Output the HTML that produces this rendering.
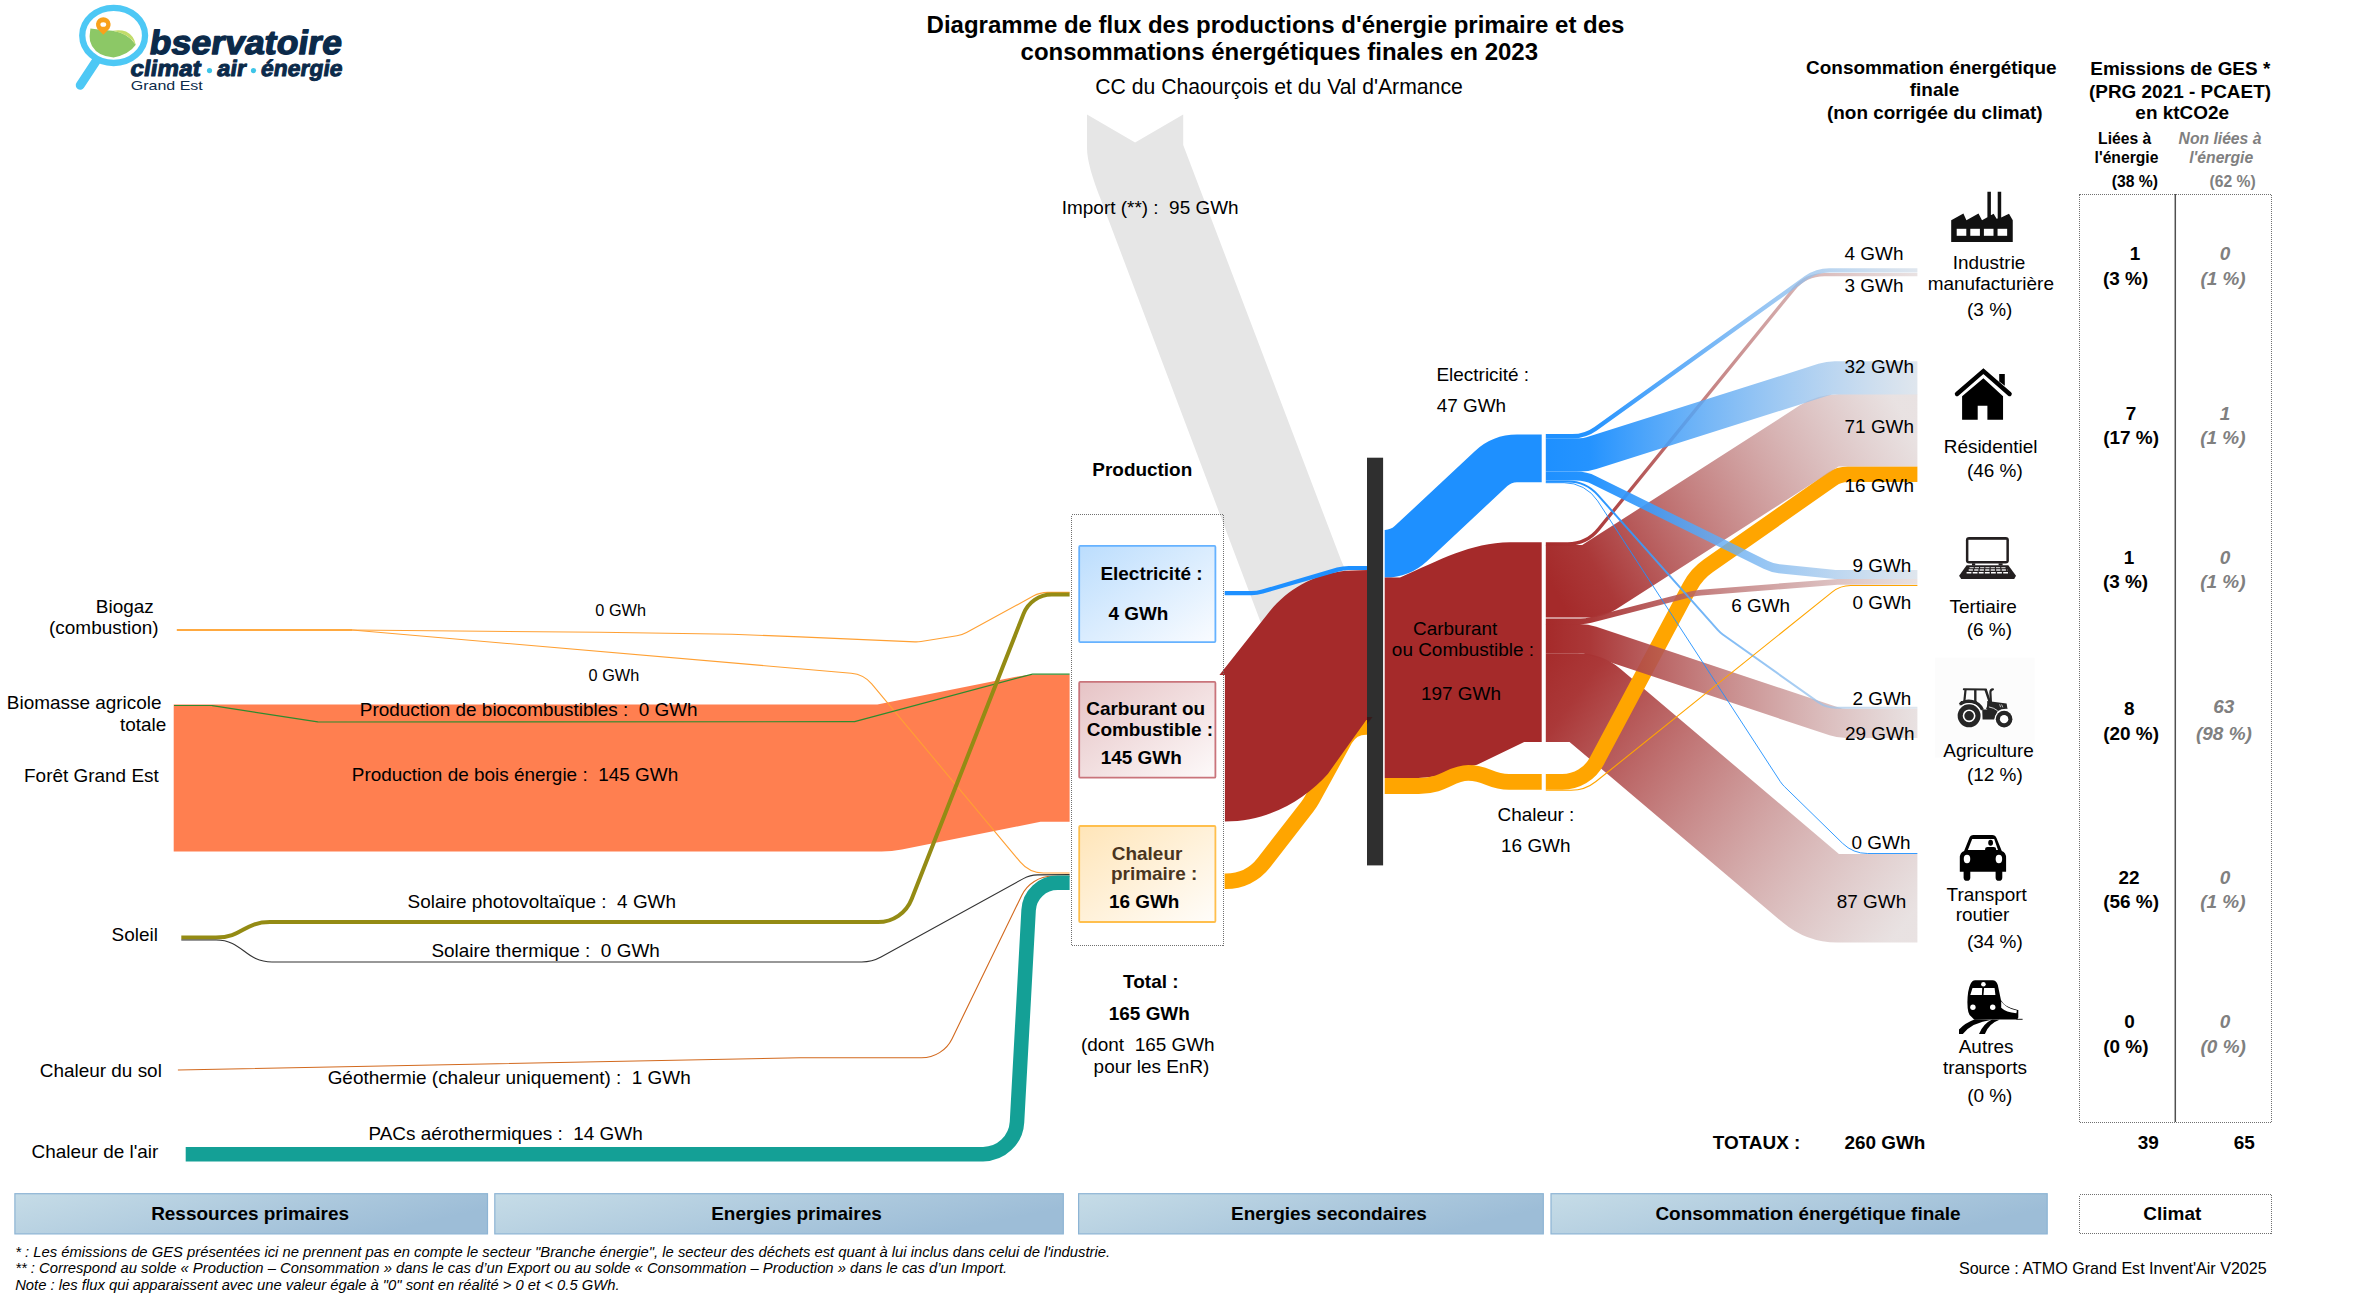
<!DOCTYPE html>
<html lang="fr"><head><meta charset="utf-8"><title>Diagramme de flux</title>
<style>
html,body{margin:0;padding:0;background:#fff;}
body{width:2370px;height:1299px;overflow:hidden;font-family:"Liberation Sans",sans-serif;}
svg{display:block;font-family:"Liberation Sans",sans-serif;}
svg text{white-space:pre;}
</style></head><body>
<svg width="2370" height="1299" viewBox="0 0 2370 1299">
<defs>
<linearGradient id="gB" gradientUnits="userSpaceOnUse" x1="1545.8" y1="0" x2="1917.4" y2="0"><stop offset="0" stop-color="#1E90FF" stop-opacity="1"/><stop offset="0.12" stop-color="#1E90FF" stop-opacity="0.97"/><stop offset="1" stop-color="#CCD7E3" stop-opacity="0.62"/></linearGradient>
<linearGradient id="gR" gradientUnits="userSpaceOnUse" x1="1545.8" y1="0" x2="1917.4" y2="0"><stop offset="0" stop-color="#A52A2A" stop-opacity="1"/><stop offset="0.12" stop-color="#A83232" stop-opacity="0.97"/><stop offset="1" stop-color="#DBD0D0" stop-opacity="0.62"/></linearGradient>
<linearGradient id="gR87" gradientUnits="userSpaceOnUse" x1="1535" y1="660" x2="1900" y2="930"><stop offset="0" stop-color="#A52A2A" stop-opacity="1"/><stop offset="0.12" stop-color="#A83232" stop-opacity="0.97"/><stop offset="1" stop-color="#DBD0D0" stop-opacity="0.62"/></linearGradient>
<linearGradient id="gR71" gradientUnits="userSpaceOnUse" x1="1560" y1="600" x2="1900" y2="410"><stop offset="0" stop-color="#A52A2A" stop-opacity="1"/><stop offset="0.12" stop-color="#A83232" stop-opacity="0.97"/><stop offset="1" stop-color="#DBD0D0" stop-opacity="0.62"/></linearGradient>
<linearGradient id="gBar" gradientUnits="objectBoundingBox" x1="0" y1="0" x2="1" y2="0.35"><stop offset="0" stop-color="#C6DCE7" stop-opacity="1"/><stop offset="1" stop-color="#9DBDD7" stop-opacity="1"/></linearGradient>
<linearGradient id="gElec" gradientUnits="objectBoundingBox" x1="0" y1="0" x2="1" y2="1"><stop offset="0" stop-color="#BBDDFD" stop-opacity="1"/><stop offset="1" stop-color="#FAFCFF" stop-opacity="1"/></linearGradient>
<linearGradient id="gCarb" gradientUnits="objectBoundingBox" x1="0" y1="0" x2="1" y2="1"><stop offset="0" stop-color="#E6C3C5" stop-opacity="1"/><stop offset="1" stop-color="#FDFAFA" stop-opacity="1"/></linearGradient>
<linearGradient id="gChal" gradientUnits="objectBoundingBox" x1="0" y1="0" x2="1" y2="1"><stop offset="0" stop-color="#FFE5B8" stop-opacity="1"/><stop offset="1" stop-color="#FFFDFA" stop-opacity="1"/></linearGradient>
</defs>
<rect x="0" y="0" width="2370" height="1299" fill="#fff"/>
<path d="M1087,114.6 L1135.1,142.4 L1183.2,114.6 L1183.2,145 L1341,560 L1367,620 L1367,700 L1290,700 L1250,594 L1101,200 Q1087,165 1087,148 Z" fill="#E6E6E6"/>
<path d="M173.70,851.50 L881.64,851.50 A103.50,103.50 0 0 0 901.88,849.50 L1040.56,821.85 L1069.60,821.85 L1069.60,674.85 L1036.26,674.85 A103.50,103.50 0 0 0 1016.02,676.85 L877.34,704.50 L173.70,704.50 Z" fill="#FF7F50" fill-opacity="1"/>
<path d="M176.80,630.00 L352.00,630.00" fill="none" stroke="#FF8C00" stroke-width="1.6" stroke-linejoin="round" stroke-opacity="1" />
<path d="M352.00,630.00 L600.00,632.30 L732.00,634.20 L800.00,636.90 L914.98,641.87 A30.00,30.00 0 0 0 920.99,641.52 L956.88,635.81 A30.00,30.00 0 0 0 966.55,632.52 L1033.28,596.07 A30.00,30.00 0 0 1 1047.66,592.40 L1069.60,592.40" fill="none" stroke="#FFA033" stroke-width="1.1" stroke-linejoin="round" stroke-opacity="1" />
<path d="M352.00,630.00 L851.25,673.22 A30.00,30.00 0 0 1 871.70,683.90 L1020.40,862.21 A30.00,30.00 0 0 0 1043.44,873.00 L1069.60,873.00" fill="none" stroke="#FFA033" stroke-width="1.1" stroke-linejoin="round" stroke-opacity="1" />
<path d="M174.00,705.50 L211.69,705.50 A4.00,4.00 0 0 1 212.31,705.55 L317.69,721.95 A4.00,4.00 0 0 0 318.31,722.00 L853.58,721.70 A4.00,4.00 0 0 0 854.61,721.56 L1031.49,674.34 A4.00,4.00 0 0 1 1032.52,674.20 L1069.60,674.20" fill="none" stroke="#2E8B2E" stroke-width="1.2" stroke-linejoin="round" stroke-opacity="1" />
<path d="M181.3,937.6 L216,937.6 C243,937.6 243,922.1 270,922.1 L291,922.1" fill="none" stroke="#948B14" stroke-width="4"/>
<path d="M290.00,922.10 L878.05,922.10 A36.00,36.00 0 0 0 911.57,899.25 L1023.63,613.64 A30.00,30.00 0 0 1 1051.56,594.60 L1069.60,594.60" fill="none" stroke="#948B14" stroke-width="4" stroke-linejoin="round" stroke-opacity="1" />
<path d="M181.3,940 L216,940 C243,940 245,962 272,962 L290,962" fill="none" stroke="#333" stroke-width="1.1"/>
<path d="M290.00,962.00 L861.72,962.00 A40.00,40.00 0 0 0 881.01,957.04 L1023.38,878.64 A30.00,30.00 0 0 1 1037.55,874.92 L1069.60,874.60" fill="none" stroke="#333" stroke-width="1.1" stroke-linejoin="round" stroke-opacity="1" />
<path d="M177.90,1070.00 L800.00,1057.80 L921.52,1057.80 A34.00,34.00 0 0 0 952.10,1038.66 L1021.70,895.44 A34.00,34.00 0 0 1 1052.28,876.30 L1069.60,876.30" fill="none" stroke="#D2691E" stroke-width="1.1" stroke-linejoin="round" stroke-opacity="1" />
<path d="M185.70,1154.15 L983.06,1154.15 A34.00,34.00 0 0 0 1017.01,1122.01 L1028.60,910.22 A29.00,29.00 0 0 1 1057.56,882.80 L1069.60,882.80" fill="none" stroke="#14A096" stroke-width="14.5" stroke-linejoin="round" stroke-opacity="1" />
<path d="M1224.60,881.30 L1225.88,881.30 A48.00,48.00 0 0 0 1263.81,862.72 L1307.29,806.66 A60.00,60.00 0 0 0 1312.48,798.73 L1345.07,739.31 A24.00,24.00 0 0 1 1366.11,726.85 L1368.00,726.85" fill="none" stroke="#FFA500" stroke-width="15.6" stroke-linejoin="round" stroke-opacity="1" />
<path d="M1224.9,674.9 L1219.4,674.9 L1268,613.5 C1286,591 1310,575 1345,570.8 L1368,570 L1368,720 L1366.3,720 L1327.8,773.9 C1305,799 1270,821.5 1224.9,821.5 Z" fill="#A52A2A"/>
<path d="M1224.70,593.20 L1251.26,593.20 A40.00,40.00 0 0 0 1262.51,591.59 L1337.49,569.61 A40.00,40.00 0 0 1 1348.74,568.00 L1368.00,568.00" fill="none" stroke="#1E90FF" stroke-width="4.2" stroke-linejoin="round" stroke-opacity="1" />
<path d="M1384.70,577.55 L1385.00,577.55 A61.80,61.80 0 0 0 1427.21,560.90 L1507.30,486.03 A14.20,14.20 0 0 1 1517.00,482.20 L1541.70,482.20 L1541.70,434.60 L1517.00,434.60 A61.80,61.80 0 0 0 1474.79,451.25 L1394.70,526.12 A14.20,14.20 0 0 1 1385.00,529.95 L1384.70,529.95 Z" fill="#1E90FF" fill-opacity="1"/>
<path d="M1384.7,577.5 L1400,577.5 C1440,560 1470,543 1510,542.3 L1541.7,542.3 L1541.7,741.9 L1524.2,741.9 L1477,764.8 C1460,768 1440,778.1 1418,778.1 L1384.7,778.1 Z" fill="#A52A2A"/>
<path d="M1384.7,786.05 L1418.8,786.05 C1445,786.05 1450,772.9 1468.3,772.9 C1487,772.9 1490,781.85 1509,781.85 L1541.7,781.85" fill="none" stroke="#FFA500" stroke-width="15.9"/>
<path d="M1545.80,741.90 L1569.56,741.90 L1782.87,922.62 A84.30,84.30 0 0 0 1837.37,942.60 L1917.40,942.60 L1917.40,854.00 L1838.94,854.00 L1620.59,669.01 A66.30,66.30 0 0 0 1577.73,653.30 L1545.80,653.30 Z" fill="url(#gR87)" fill-opacity="1"/>
<path d="M1545.80,781.85 L1562.31,781.85 A39.00,39.00 0 0 0 1596.71,761.21 L1689.76,586.84 A60.00,60.00 0 0 1 1708.23,565.97 L1831.76,479.28 A28.00,28.00 0 0 1 1847.84,474.20 L1917.40,474.20" fill="none" stroke="#FFA500" stroke-width="15.6" stroke-linejoin="round" stroke-opacity="1" />
<path d="M1545.80,617.50 L1588.69,617.50 A50.20,50.20 0 0 0 1615.81,609.55 L1838.62,466.55 L1917.40,466.55 L1917.40,394.15 L1838.56,394.15 A72.20,72.20 0 0 0 1799.56,405.59 L1582.18,545.10 L1545.80,545.10 Z" fill="url(#gR71)" fill-opacity="1"/>
<path d="M1545.80,543.90 L1567.57,543.90 A40.00,40.00 0 0 0 1598.61,529.13 L1793.49,289.37 A40.00,40.00 0 0 1 1824.53,274.60 L1917.40,274.60" fill="none" stroke="url(#gR)" stroke-width="3.3" stroke-linejoin="round" stroke-opacity="1" />
<path d="M1545.80,621.30 L1580.74,621.30 A40.00,40.00 0 0 0 1590.70,620.04 L1690.77,594.29 A60.00,60.00 0 0 1 1700.98,592.59 L1834.42,582.02 A40.00,40.00 0 0 1 1837.58,581.90 L1917.40,581.90" fill="none" stroke="url(#gR)" stroke-width="5.8" stroke-linejoin="round" stroke-opacity="1" />
<path d="M1545.80,653.30 L1579.64,653.30 A23.40,23.40 0 0 1 1587.03,654.50 L1829.54,735.30 A52.60,52.60 0 0 0 1846.16,738.00 L1917.40,738.00 L1917.40,708.80 L1846.16,708.80 A23.40,23.40 0 0 1 1838.77,707.60 L1596.26,626.80 A52.60,52.60 0 0 0 1579.64,624.10 L1545.80,624.10 Z" fill="url(#gR)" fill-opacity="1"/>
<path d="M1545.80,471.50 L1579.93,471.50 A54.60,54.60 0 0 0 1596.41,468.95 L1828.41,395.50 A21.40,21.40 0 0 1 1834.87,394.50 L1917.40,394.50 L1917.40,361.30 L1834.87,361.30 A54.60,54.60 0 0 0 1818.39,363.85 L1586.39,437.30 A21.40,21.40 0 0 1 1579.93,438.30 L1545.80,438.30 Z" fill="url(#gB)" fill-opacity="1"/>
<path d="M1545.80,436.15 L1572.34,436.15 A40.00,40.00 0 0 0 1595.65,428.66 L1806.05,277.79 A40.00,40.00 0 0 1 1829.36,270.30 L1917.40,270.30" fill="none" stroke="url(#gB)" stroke-width="4.3" stroke-linejoin="round" stroke-opacity="1" />
<path d="M1545.80,476.00 L1576.46,476.00 A40.00,40.00 0 0 1 1594.18,480.14 L1765.55,564.81 A40.00,40.00 0 0 0 1779.16,568.74 L1832.95,574.29 A40.00,40.00 0 0 0 1837.06,574.50 L1917.40,574.50" fill="none" stroke="url(#gB)" stroke-width="8.9" stroke-linejoin="round" stroke-opacity="1" />
<path d="M1545.80,481.50 L1567.84,481.50 A40.00,40.00 0 0 1 1597.73,494.93 L1717.73,629.94 A30.00,30.00 0 0 0 1722.79,634.48 L1818.20,702.17 A30.00,30.00 0 0 0 1835.56,707.70 L1917.40,707.70" fill="none" stroke="url(#gB)" stroke-width="2.0" stroke-linejoin="round" stroke-opacity="1" />
<path d="M1545.80,482.70 L1564.11,482.70 A40.00,40.00 0 0 1 1597.63,500.88 L1780.19,781.42 A30.00,30.00 0 0 0 1784.38,786.52 L1842.51,843.26 A36.00,36.00 0 0 0 1867.66,853.50 L1917.40,853.50" fill="none" stroke="#1E90FF" stroke-width="1.0" stroke-linejoin="round" stroke-opacity="0.9" />
<path d="M1545.80,790.30 L1570.94,790.30 A40.00,40.00 0 0 0 1595.97,781.50 L1832.07,592.10 A30.00,30.00 0 0 1 1850.85,585.50 L1917.40,585.50" fill="none" stroke="#FFA500" stroke-width="1.1" stroke-linejoin="round" stroke-opacity="1" />
<rect x="1367" y="457.7" width="16.1" height="407.7" fill="#2F2F2F"/>
<path d="M1367,717 L1372.5,717 L1367,724 Z" fill="#3a1515" opacity="0.8"/>
<rect x="1071.5" y="514.5" width="152" height="431" stroke="#707070" stroke-width="1" stroke-dasharray="1,1" fill="none" shape-rendering="crispEdges"/>
<rect x="1079.2" y="545.9" width="136.2" height="96.2" rx="1" fill="url(#gElec)" stroke="#66B2FF" stroke-width="1.8"/>
<rect x="1079.2" y="681.9" width="136.2" height="95.8" rx="1" fill="url(#gCarb)" stroke="#C9747B" stroke-width="1.8"/>
<rect x="1079.2" y="826" width="136.2" height="96" rx="1" fill="url(#gChal)" stroke="#FFBF4D" stroke-width="1.8"/>
<rect x="2079.5" y="194.5" width="192" height="927.5" stroke="#707070" stroke-width="1" stroke-dasharray="1,1" fill="none" shape-rendering="crispEdges"/>
<line x1="2175.3" y1="194" x2="2175.3" y2="1122" stroke="#505050" stroke-width="1.5"/>
<rect x="14.9" y="1193.7" width="472.6" height="40.2" fill="url(#gBar)" stroke="#8DB4D4" stroke-width="1.2"/>
<rect x="494.8" y="1193.7" width="568.5" height="40.2" fill="url(#gBar)" stroke="#8DB4D4" stroke-width="1.2"/>
<rect x="1078.6" y="1193.7" width="464.7" height="40.2" fill="url(#gBar)" stroke="#8DB4D4" stroke-width="1.2"/>
<rect x="1551" y="1193.7" width="496.2" height="40.2" fill="url(#gBar)" stroke="#8DB4D4" stroke-width="1.2"/>
<rect x="2079.5" y="1194.5" width="192" height="39" stroke="#707070" stroke-width="1" stroke-dasharray="1,1" fill="none" shape-rendering="crispEdges"/>
<line x1="96.5" y1="60.5" x2="80.2" y2="85.3" stroke="#4DC8F5" stroke-width="8.9" stroke-linecap="round"/>
<ellipse cx="113.66" cy="35.4" rx="31.4" ry="27.6" fill="#fff" stroke="#4DC8F5" stroke-width="6.3"/>
<path d="M90.4,28.5 Q100,30 112.7,30.8 Q128,33 135.8,44.7 Q129,54.5 113.5,57.4 Q98,56.5 92,46 Q89.3,41 89.6,36.2 Z" fill="#8CC866"/>
<path d="M112.7,30.8 Q120,29.6 126,31.5 Q134,35.5 135.8,44.7 Q129,34 112.7,30.8 Z" fill="#C2DC6A"/>
<path d="M103.3,34.8 L97.3,28.7 A7.3,7.3 0 1 1 109.3,28.7 Z" fill="#F9A11B"/>
<ellipse cx="103.3" cy="24.5" rx="2.9" ry="2.3" fill="#fff"/>
<g transform="translate(148.3,53.9) skewX(-9)"><text x="0" y="0" font-size="33.5" font-weight="bold" fill="#0B2A4A" stroke="#0B2A4A" stroke-width="1.3" stroke-linejoin="round" textLength="192.3" lengthAdjust="spacingAndGlyphs">bservatoire</text></g>
<g transform="translate(129.6,75.8) skewX(-9)"><text x="0" y="0" font-size="22.5" font-weight="bold" fill="#0B2A4A" stroke="#0B2A4A" stroke-width="1.0" stroke-linejoin="round" textLength="70.2" lengthAdjust="spacingAndGlyphs">climat</text></g>
<g transform="translate(216.2,75.8) skewX(-9)"><text x="0" y="0" font-size="22.5" font-weight="bold" fill="#0B2A4A" stroke="#0B2A4A" stroke-width="1.0" stroke-linejoin="round" textLength="29" lengthAdjust="spacingAndGlyphs">air</text></g>
<g transform="translate(260,75.8) skewX(-9)"><text x="0" y="0" font-size="22.5" font-weight="bold" fill="#0B2A4A" stroke="#0B2A4A" stroke-width="1.0" stroke-linejoin="round" textLength="81.5" lengthAdjust="spacingAndGlyphs">énergie</text></g>
<circle cx="209.5" cy="70.6" r="2.6" fill="#3EC5E8"/><circle cx="253.5" cy="70.6" r="2.6" fill="#3EC5E8"/>
<text x="130.8" y="90.1" font-size="13.6" fill="#0B2A4A" textLength="72" lengthAdjust="spacingAndGlyphs">Grand Est</text>
<path d="M1951.2,242 L1951.2,220.2 L1963.4,213.5 L1966.4,220.2 L1978.5,213.4 L1982,220.2 L1987.4,217.2 L1987.4,191.8 L1990.9,191.8 L1990.9,215.3 L1993.6,213.7 L1996.6,218.8 L1997.7,218.4 L1997.7,191.8 L2001.2,191.8 L2001.2,217.6 L2009,213.8 L2012.75,220.2 L2012.75,242 Z" fill="#111"/>
<rect x="1956.7" y="228.8" width="9.6" height="7" fill="#fff"/>
<rect x="1970.3" y="228.8" width="9.6" height="7" fill="#fff"/>
<rect x="1983.9" y="228.8" width="9.6" height="7" fill="#fff"/>
<rect x="1997.55" y="228.8" width="9.6" height="7" fill="#fff"/>
<path d="M1957,394 L1983.4,371.2 L2009.6,394" fill="none" stroke="#000" stroke-width="4.4" stroke-linecap="round" stroke-linejoin="miter"/>
<path d="M1983.4,378.2 L2003.05,396.2 L2003.05,419.7 L1987.4,419.7 L1987.4,405.7 L1977.7,405.7 L1977.7,419.7 L1962.1,419.7 L1962.1,396.2 Z" fill="#000"/>
<path d="M1999.2,374 L2004.8,374 L2004.8,385.7 L1999.2,381.4 Z" fill="#000"/>
<rect x="1965.9" y="537" width="43" height="26.5" rx="3.2" fill="#231F20"/>
<rect x="1968.4" y="539.8" width="38" height="21.2" fill="#fff"/>
<rect x="1972" y="563.3" width="3.2" height="2.2" fill="#231F20"/><rect x="1998.6" y="563.3" width="4" height="2.2" fill="#231F20"/>
<path d="M1966.6,565.2 L2008.3,565.2 L2016,575.7 L2014.2,578.9 L1961.2,578.9 L1959.1,575.7 Z" fill="#231F20"/>
<line x1="1969.5" y1="567.7" x2="2005.9" y2="567.7" stroke="#fff" stroke-width="0.9" stroke-dasharray="4.2,1.1"/>
<line x1="1968.7" y1="570" x2="2007.5" y2="570" stroke="#e8e8e8" stroke-width="1.6" stroke-dasharray="4.2,1.3"/>
<line x1="1966.6" y1="572.8" x2="2009.4" y2="572.8" stroke="#fff" stroke-width="1.5" stroke-dasharray="4.8,1.3"/>
<rect x="1935" y="657.7" width="99.7" height="100" fill="#FCFCFC"/>
<path d="M1987.2,701 L2006.6,703.6 L2007.5,708.9 Q2001.5,708.6 1997.6,711.2 L1994.2,719.6 L1982.6,719.6 L1982.2,709.4 L1987.2,709.4 Z" fill="#262626"/>
<path d="M1959.9,704.5 A14.5,14.5 0 0 1 1982.4,709.8" fill="none" stroke="#262626" stroke-width="3.3"/>
<path d="M1959.3,705.6 L1961,701 L1977,701.4 L1977,703.5 L1962.5,703.2 Z" fill="#262626"/>
<line x1="1963.8" y1="689.3" x2="1986" y2="689.6" stroke="#262626" stroke-width="2" stroke-linecap="round"/>
<line x1="1965.5" y1="690" x2="1964.3" y2="701.8" stroke="#262626" stroke-width="2.2"/>
<line x1="1975.3" y1="690" x2="1975.3" y2="702.5" stroke="#262626" stroke-width="2.4"/>
<path d="M1985.6,689.5 L1989.8,702.2 L1987.2,709.4" fill="none" stroke="#262626" stroke-width="2.5"/>
<path d="M1990.9,702 L1990.4,692.3 Q1990.5,689.5 1992.9,689.4" fill="none" stroke="#262626" stroke-width="2.2" stroke-linecap="round"/>
<path d="M1988.9,706.9 Q1994,707.8 1997.6,710.7" fill="none" stroke="#fff" stroke-width="0.8"/>
<path d="M1999.6,704.3 L2000.6,707.2 M2001.6,704.5 L2002.8,707.4" fill="none" stroke="#fff" stroke-width="0.7"/>
<circle cx="1969.1" cy="715.8" r="12.8" fill="#fff"/><circle cx="2004.1" cy="719.15" r="9.5" fill="#fff"/>
<circle cx="1969.1" cy="715.8" r="11.46" fill="#262626"/><circle cx="1969.1" cy="715.8" r="5.6" fill="none" stroke="#fff" stroke-width="1.6"/>
<circle cx="2004.1" cy="719.15" r="8.3" fill="#262626"/><circle cx="2004.1" cy="719.15" r="4.2" fill="#fff"/>
<path d="M1959.8,871.8 L1959.8,858 Q1959.8,852.5 1964.1,851 L1969.3,838 Q1970.3,835 1973.5,835 L1992.2,835 Q1995.4,835 1996.5,838 L2001.8,851 Q2006.1,852.5 2006.1,858 L2006.1,871.8 Z" fill="#000"/>
<path d="M1972.2,839.1 L1994.2,839.1 L1998,850.1 L1967.9,850.1 Z" fill="#fff"/>
<path d="M1963.6,871 L1963.6,877.5 A3.35,3.35 0 0 0 1970.3,877.5 L1970.3,871 Z" fill="#000"/>
<path d="M1995.6,871 L1995.6,877.5 A3.35,3.35 0 0 0 2002.3,877.5 L2002.3,871 Z" fill="#000"/>
<ellipse cx="1967" cy="859" rx="3.25" ry="4.2" fill="#fff"/><ellipse cx="1998.9" cy="859" rx="3.25" ry="4.2" fill="#fff"/>
<ellipse cx="1990.6" cy="842.8" rx="2.4" ry="3" fill="#000"/>
<path d="M1985.1,850.1 L1985.1,849 Q1985.1,847 1987.5,847 L1993.7,847 Q1996.1,847 1996.1,849 L1996.1,850.1 Z" fill="#000"/>
<path d="M1975.2,980.2 L1992.4,980.2 Q1996.5,980.2 1997.8,985.1 L2001,1000.2 Q2005,1007.5 2017.75,1009.9 L2018.3,1009.9 L2018.3,1017.4 L2017.2,1019.6 L1974.1,1019.6 L1970.9,1016.3 Q1967.4,1014 1967.4,1002.3 Q1967.6,990 1970.5,984 Q1972,980.2 1975.2,980.2 Z" fill="#000"/>
<line x1="2016.5" y1="1019.3" x2="2022.6" y2="1019.3" stroke="#000" stroke-width="0.9"/>
<path d="M2001.2,1001.3 Q2005.5,1008.2 2016.9,1010.6 L2016.4,1013.2 Q2006,1012.3 2001.2,1007.7 Z" fill="#fff"/>
<path d="M1972.5,988 L1982.2,988 L1981.9,995.1 L1970.3,995.1 Z M1984.1,988 L1994.6,988 L1995.4,995.1 L1983.5,995.1 Z" fill="#fff"/>
<circle cx="1983.4" cy="984.3" r="2.3" fill="#fff"/><circle cx="1972.9" cy="1007.3" r="2.7" fill="#fff"/><circle cx="1992.7" cy="1007.3" r="2.7" fill="#fff"/>
<path d="M1975,1019.3 Q1965,1023 1959,1029.5 L1959,1033.9 L1962.8,1033.9 Q1972,1022.5 1991.9,1019.8 Z" fill="#000"/>
<path d="M1991.9,1019.5 Q1983,1024 1979,1033.9 L1984.9,1033.9 Q1989,1023.5 1999.5,1019.8 Z" fill="#000"/>
<text x="1275.5" y="32.6" font-size="24" font-weight="bold" font-style="normal" fill="#000" text-anchor="middle" >Diagramme de flux des productions d'énergie primaire et des</text>
<text x="1279.3" y="59.6" font-size="24" font-weight="bold" font-style="normal" fill="#000" text-anchor="middle" >consommations énergétiques finales en 2023</text>
<text x="1279.0" y="93.7" font-size="21.2" font-weight="normal" font-style="normal" fill="#000" text-anchor="middle" >CC du Chaourçois et du Val d'Armance</text>
<text x="1931.3" y="74.0" font-size="18.95" font-weight="bold" font-style="normal" fill="#000" text-anchor="middle" >Consommation énergétique</text>
<text x="1934.5" y="95.9" font-size="18.95" font-weight="bold" font-style="normal" fill="#000" text-anchor="middle" >finale</text>
<text x="1934.8" y="118.7" font-size="18.95" font-weight="bold" font-style="normal" fill="#000" text-anchor="middle" >(non corrigée du climat)</text>
<text x="2180.3" y="74.8" font-size="18.95" font-weight="bold" font-style="normal" fill="#000" text-anchor="middle" >Emissions de GES *</text>
<text x="2180.0" y="97.7" font-size="18.95" font-weight="bold" font-style="normal" fill="#000" text-anchor="middle" >(PRG 2021 - PCAET)</text>
<text x="2182.2" y="118.7" font-size="18.95" font-weight="bold" font-style="normal" fill="#000" text-anchor="middle" >en ktCO2e</text>
<text x="2124.7" y="144.1" font-size="15.7" font-weight="bold" font-style="normal" fill="#000" text-anchor="middle" >Liées à</text>
<text x="2126.5" y="163.2" font-size="15.7" font-weight="bold" font-style="normal" fill="#000" text-anchor="middle" >l'énergie</text>
<text x="2134.8" y="186.5" font-size="15.7" font-weight="bold" font-style="normal" fill="#000" text-anchor="middle" >(38 %)</text>
<text x="2220.0" y="144.1" font-size="15.7" font-weight="bold" font-style="italic" fill="#808080" text-anchor="middle" >Non liées à</text>
<text x="2221.2" y="163.2" font-size="15.7" font-weight="bold" font-style="italic" fill="#808080" text-anchor="middle" >l'énergie</text>
<text x="2232.6" y="186.5" font-size="15.7" font-weight="bold" font-style="normal" fill="#808080" text-anchor="middle" >(62 %)</text>
<text x="1150.2" y="214.1" font-size="18.95" font-weight="normal" font-style="normal" fill="#000" text-anchor="middle" >Import (**) :  95 GWh</text>
<text x="1142.3" y="476.2" font-size="18.95" font-weight="bold" font-style="normal" fill="#000" text-anchor="middle" >Production</text>
<text x="1151.5" y="580.2" font-size="18.95" font-weight="bold" font-style="normal" fill="#000" text-anchor="middle" >Electricité :</text>
<text x="1138.4" y="620.3" font-size="18.95" font-weight="bold" font-style="normal" fill="#000" text-anchor="middle" >4 GWh</text>
<text x="1145.7" y="714.8" font-size="18.95" font-weight="bold" font-style="normal" fill="#000" text-anchor="middle" >Carburant ou</text>
<text x="1149.9" y="736.4" font-size="18.95" font-weight="bold" font-style="normal" fill="#000" text-anchor="middle" >Combustible :</text>
<text x="1141.2" y="763.6" font-size="18.95" font-weight="bold" font-style="normal" fill="#000" text-anchor="middle" >145 GWh</text>
<text x="1147.1" y="860.1" font-size="18.95" font-weight="bold" font-style="normal" fill="#4A3520" text-anchor="middle" >Chaleur</text>
<text x="1154.1" y="880.4" font-size="18.95" font-weight="bold" font-style="normal" fill="#4A3520" text-anchor="middle" >primaire :</text>
<text x="1144.2" y="907.8" font-size="18.95" font-weight="bold" font-style="normal" fill="#000" text-anchor="middle" >16 GWh</text>
<text x="1150.8" y="988.4" font-size="18.95" font-weight="bold" font-style="normal" fill="#000" text-anchor="middle" >Total :</text>
<text x="1149.3" y="1020.1" font-size="18.95" font-weight="bold" font-style="normal" fill="#000" text-anchor="middle" >165 GWh</text>
<text x="1147.8" y="1050.8" font-size="18.95" font-weight="normal" font-style="normal" fill="#000" text-anchor="middle" >(dont  165 GWh</text>
<text x="1151.5" y="1072.9" font-size="18.95" font-weight="normal" font-style="normal" fill="#000" text-anchor="middle" >pour les EnR)</text>
<text x="124.8" y="613.0" font-size="18.95" font-weight="normal" font-style="normal" fill="#000" text-anchor="middle" >Biogaz</text>
<text x="103.8" y="634.0" font-size="18.95" font-weight="normal" font-style="normal" fill="#000" text-anchor="middle" >(combustion)</text>
<text x="84.2" y="708.5" font-size="18.95" font-weight="normal" font-style="normal" fill="#000" text-anchor="middle" >Biomasse agricole</text>
<text x="143.1" y="730.5" font-size="18.95" font-weight="normal" font-style="normal" fill="#000" text-anchor="middle" >totale</text>
<text x="91.4" y="781.7" font-size="18.95" font-weight="normal" font-style="normal" fill="#000" text-anchor="middle" >Forêt Grand Est</text>
<text x="134.7" y="940.8" font-size="18.95" font-weight="normal" font-style="normal" fill="#000" text-anchor="middle" >Soleil</text>
<text x="100.8" y="1077.2" font-size="18.95" font-weight="normal" font-style="normal" fill="#000" text-anchor="middle" >Chaleur du sol</text>
<text x="95.0" y="1157.5" font-size="18.95" font-weight="normal" font-style="normal" fill="#000" text-anchor="middle" >Chaleur de l'air</text>
<text x="620.7" y="616.4" font-size="16.3" font-weight="normal" font-style="normal" fill="#000" text-anchor="middle" >0 GWh</text>
<text x="613.9" y="681.4" font-size="16.3" font-weight="normal" font-style="normal" fill="#000" text-anchor="middle" >0 GWh</text>
<text x="528.7" y="716.3" font-size="18.95" font-weight="normal" font-style="normal" fill="#000" text-anchor="middle" >Production de biocombustibles :  0 GWh</text>
<text x="515.0" y="780.7" font-size="18.95" font-weight="normal" font-style="normal" fill="#000" text-anchor="middle" >Production de bois énergie :  145 GWh</text>
<text x="541.8" y="908.4" font-size="18.95" font-weight="normal" font-style="normal" fill="#000" text-anchor="middle" >Solaire photovoltaïque :  4 GWh</text>
<text x="545.6" y="956.7" font-size="18.95" font-weight="normal" font-style="normal" fill="#000" text-anchor="middle" >Solaire thermique :  0 GWh</text>
<text x="509.2" y="1084.3" font-size="18.95" font-weight="normal" font-style="normal" fill="#000" text-anchor="middle" >Géothermie (chaleur uniquement) :  1 GWh</text>
<text x="505.6" y="1140.0" font-size="18.95" font-weight="normal" font-style="normal" fill="#000" text-anchor="middle" >PACs aérothermiques :  14 GWh</text>
<text x="1482.8" y="381.1" font-size="18.95" font-weight="normal" font-style="normal" fill="#000" text-anchor="middle" >Electricité :</text>
<text x="1471.4" y="412.4" font-size="18.95" font-weight="normal" font-style="normal" fill="#000" text-anchor="middle" >47 GWh</text>
<text x="1455.2" y="635.2" font-size="18.95" font-weight="normal" font-style="normal" fill="#000" text-anchor="middle" >Carburant</text>
<text x="1462.9" y="656.2" font-size="18.95" font-weight="normal" font-style="normal" fill="#000" text-anchor="middle" >ou Combustible :</text>
<text x="1461.0" y="700.3" font-size="18.95" font-weight="normal" font-style="normal" fill="#000" text-anchor="middle" >197 GWh</text>
<text x="1535.9" y="821.2" font-size="18.95" font-weight="normal" font-style="normal" fill="#000" text-anchor="middle" >Chaleur :</text>
<text x="1535.8" y="852.3" font-size="18.95" font-weight="normal" font-style="normal" fill="#000" text-anchor="middle" >16 GWh</text>
<text x="1760.6" y="611.8" font-size="18.95" font-weight="normal" font-style="normal" fill="#000" text-anchor="middle" >6 GWh</text>
<text x="1874.0" y="259.5" font-size="18.95" font-weight="normal" font-style="normal" fill="#000" text-anchor="middle" >4 GWh</text>
<text x="1874.0" y="292.0" font-size="18.95" font-weight="normal" font-style="normal" fill="#000" text-anchor="middle" >3 GWh</text>
<text x="1879.3" y="372.9" font-size="18.95" font-weight="normal" font-style="normal" fill="#000" text-anchor="middle" >32 GWh</text>
<text x="1879.3" y="432.6" font-size="18.95" font-weight="normal" font-style="normal" fill="#000" text-anchor="middle" >71 GWh</text>
<text x="1879.3" y="492.3" font-size="18.95" font-weight="normal" font-style="normal" fill="#000" text-anchor="middle" >16 GWh</text>
<text x="1881.9" y="572.1" font-size="18.95" font-weight="normal" font-style="normal" fill="#000" text-anchor="middle" >9 GWh</text>
<text x="1881.9" y="608.9" font-size="18.95" font-weight="normal" font-style="normal" fill="#000" text-anchor="middle" >0 GWh</text>
<text x="1881.9" y="704.7" font-size="18.95" font-weight="normal" font-style="normal" fill="#000" text-anchor="middle" >2 GWh</text>
<text x="1879.7" y="739.5" font-size="18.95" font-weight="normal" font-style="normal" fill="#000" text-anchor="middle" >29 GWh</text>
<text x="1881.0" y="848.5" font-size="18.95" font-weight="normal" font-style="normal" fill="#000" text-anchor="middle" >0 GWh</text>
<text x="1871.5" y="907.9" font-size="18.95" font-weight="normal" font-style="normal" fill="#000" text-anchor="middle" >87 GWh</text>
<text x="1989.1" y="269.1" font-size="18.95" font-weight="normal" font-style="normal" fill="#000" text-anchor="middle" >Industrie</text>
<text x="1990.8" y="290.2" font-size="18.95" font-weight="normal" font-style="normal" fill="#000" text-anchor="middle" >manufacturière</text>
<text x="1989.7" y="316.1" font-size="18.95" font-weight="normal" font-style="normal" fill="#000" text-anchor="middle" >(3 %)</text>
<text x="1990.6" y="453.3" font-size="18.95" font-weight="normal" font-style="normal" fill="#000" text-anchor="middle" >Résidentiel</text>
<text x="1994.8" y="476.7" font-size="18.95" font-weight="normal" font-style="normal" fill="#000" text-anchor="middle" >(46 %)</text>
<text x="1983.2" y="612.7" font-size="18.95" font-weight="normal" font-style="normal" fill="#000" text-anchor="middle" >Tertiaire</text>
<text x="1989.4" y="636.1" font-size="18.95" font-weight="normal" font-style="normal" fill="#000" text-anchor="middle" >(6 %)</text>
<text x="1988.6" y="757.0" font-size="18.95" font-weight="normal" font-style="normal" fill="#000" text-anchor="middle" >Agriculture</text>
<text x="1994.8" y="780.9" font-size="18.95" font-weight="normal" font-style="normal" fill="#000" text-anchor="middle" >(12 %)</text>
<text x="1986.7" y="901.1" font-size="18.95" font-weight="normal" font-style="normal" fill="#000" text-anchor="middle" >Transport</text>
<text x="1982.5" y="921.3" font-size="18.95" font-weight="normal" font-style="normal" fill="#000" text-anchor="middle" >routier</text>
<text x="1994.8" y="948.4" font-size="18.95" font-weight="normal" font-style="normal" fill="#000" text-anchor="middle" >(34 %)</text>
<text x="1986.1" y="1053.0" font-size="18.95" font-weight="normal" font-style="normal" fill="#000" text-anchor="middle" >Autres</text>
<text x="1985.0" y="1073.9" font-size="18.95" font-weight="normal" font-style="normal" fill="#000" text-anchor="middle" >transports</text>
<text x="1989.8" y="1101.8" font-size="18.95" font-weight="normal" font-style="normal" fill="#000" text-anchor="middle" >(0 %)</text>
<text x="2135.0" y="259.5" font-size="18.95" font-weight="bold" font-style="normal" fill="#000" text-anchor="middle" >1</text>
<text x="2125.6" y="284.9" font-size="18.95" font-weight="bold" font-style="normal" fill="#000" text-anchor="middle" >(3 %)</text>
<text x="2131.0" y="419.8" font-size="18.95" font-weight="bold" font-style="normal" fill="#000" text-anchor="middle" >7</text>
<text x="2131.1" y="443.9" font-size="18.95" font-weight="bold" font-style="normal" fill="#000" text-anchor="middle" >(17 %)</text>
<text x="2129.0" y="563.9" font-size="18.95" font-weight="bold" font-style="normal" fill="#000" text-anchor="middle" >1</text>
<text x="2125.5" y="588.0" font-size="18.95" font-weight="bold" font-style="normal" fill="#000" text-anchor="middle" >(3 %)</text>
<text x="2129.3" y="715.1" font-size="18.95" font-weight="bold" font-style="normal" fill="#000" text-anchor="middle" >8</text>
<text x="2131.1" y="739.8" font-size="18.95" font-weight="bold" font-style="normal" fill="#000" text-anchor="middle" >(20 %)</text>
<text x="2129.1" y="884.3" font-size="18.95" font-weight="bold" font-style="normal" fill="#000" text-anchor="middle" >22</text>
<text x="2131.1" y="908.2" font-size="18.95" font-weight="bold" font-style="normal" fill="#000" text-anchor="middle" >(56 %)</text>
<text x="2129.4" y="1028.4" font-size="18.95" font-weight="bold" font-style="normal" fill="#000" text-anchor="middle" >0</text>
<text x="2125.9" y="1053.3" font-size="18.95" font-weight="bold" font-style="normal" fill="#000" text-anchor="middle" >(0 %)</text>
<text x="2225.0" y="259.5" font-size="18.95" font-weight="bold" font-style="italic" fill="#808080" text-anchor="middle" >0</text>
<text x="2223.0" y="284.9" font-size="18.95" font-weight="bold" font-style="italic" fill="#808080" text-anchor="middle" >(1 %)</text>
<text x="2225.0" y="419.8" font-size="18.95" font-weight="bold" font-style="italic" fill="#808080" text-anchor="middle" >1</text>
<text x="2222.9" y="443.9" font-size="18.95" font-weight="bold" font-style="italic" fill="#808080" text-anchor="middle" >(1 %)</text>
<text x="2225.0" y="563.9" font-size="18.95" font-weight="bold" font-style="italic" fill="#808080" text-anchor="middle" >0</text>
<text x="2222.9" y="588.0" font-size="18.95" font-weight="bold" font-style="italic" fill="#808080" text-anchor="middle" >(1 %)</text>
<text x="2223.7" y="713.2" font-size="18.95" font-weight="bold" font-style="italic" fill="#808080" text-anchor="middle" >63</text>
<text x="2223.9" y="739.8" font-size="18.95" font-weight="bold" font-style="italic" fill="#808080" text-anchor="middle" >(98 %)</text>
<text x="2225.0" y="884.3" font-size="18.95" font-weight="bold" font-style="italic" fill="#808080" text-anchor="middle" >0</text>
<text x="2222.9" y="908.2" font-size="18.95" font-weight="bold" font-style="italic" fill="#808080" text-anchor="middle" >(1 %)</text>
<text x="2225.0" y="1028.4" font-size="18.95" font-weight="bold" font-style="italic" fill="#808080" text-anchor="middle" >0</text>
<text x="2223.2" y="1053.3" font-size="18.95" font-weight="bold" font-style="italic" fill="#808080" text-anchor="middle" >(0 %)</text>
<text x="1756.6" y="1149.1" font-size="18.95" font-weight="bold" font-style="normal" fill="#000" text-anchor="middle" >TOTAUX :</text>
<text x="1884.9" y="1149.1" font-size="18.95" font-weight="bold" font-style="normal" fill="#000" text-anchor="middle" >260 GWh</text>
<text x="2148.3" y="1149.1" font-size="18.95" font-weight="bold" font-style="normal" fill="#000" text-anchor="middle" >39</text>
<text x="2244.2" y="1149.1" font-size="18.95" font-weight="bold" font-style="normal" fill="#000" text-anchor="middle" >65</text>
<text x="250.1" y="1220.1" font-size="18.95" font-weight="bold" font-style="normal" fill="#000" text-anchor="middle" >Ressources primaires</text>
<text x="796.5" y="1220.1" font-size="18.95" font-weight="bold" font-style="normal" fill="#000" text-anchor="middle" >Energies primaires</text>
<text x="1329.0" y="1220.1" font-size="18.95" font-weight="bold" font-style="normal" fill="#000" text-anchor="middle" >Energies secondaires</text>
<text x="1808.0" y="1220.1" font-size="18.95" font-weight="bold" font-style="normal" fill="#000" text-anchor="middle" >Consommation énergétique finale</text>
<text x="2172.3" y="1220.1" font-size="18.95" font-weight="bold" font-style="normal" fill="#000" text-anchor="middle" >Climat</text>
<text x="15.2" y="1256.7" font-size="14.8" font-weight="normal" font-style="italic" fill="#000" text-anchor="start" >* : Les émissions de GES présentées ici ne prennent pas en compte le secteur "Branche énergie", le secteur des déchets est quant à lui inclus dans celui de l'industrie.</text>
<text x="15.2" y="1273.0" font-size="14.8" font-weight="normal" font-style="italic" fill="#000" text-anchor="start" >** : Correspond au solde « Production – Consommation » dans le cas d’un Export ou au solde « Consommation – Production » dans le cas d’un Import.</text>
<text x="15.2" y="1289.7" font-size="14.8" font-weight="normal" font-style="italic" fill="#000" text-anchor="start" >Note : les flux qui apparaissent avec une valeur égale à "0" sont en réalité &gt; 0 et &lt; 0.5 GWh.</text>
<text x="2112.8" y="1274.0" font-size="16.1" font-weight="normal" font-style="normal" fill="#000" text-anchor="middle" >Source : ATMO Grand Est Invent'Air V2025</text>
</svg>
</body></html>
